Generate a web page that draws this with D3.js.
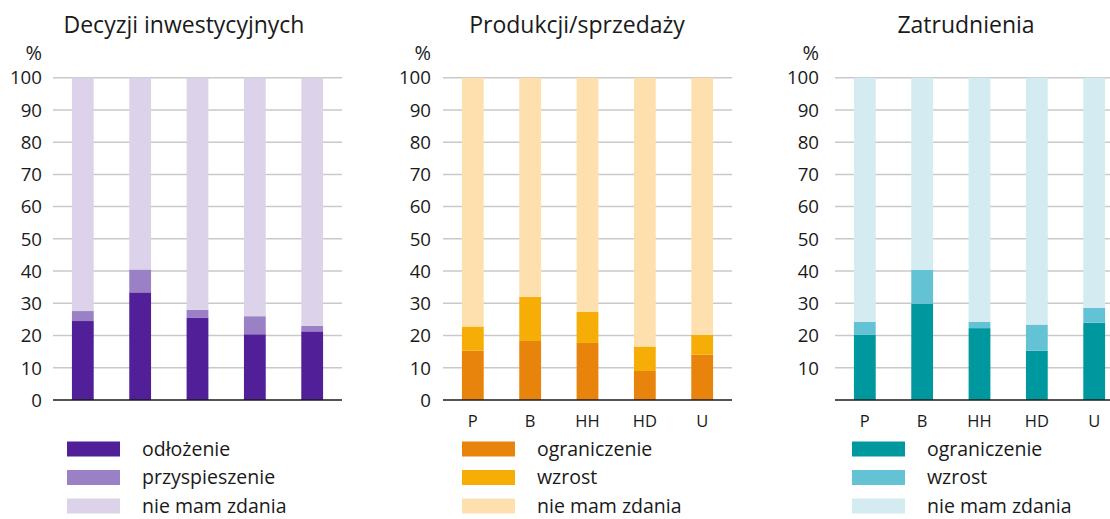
<!DOCTYPE html>
<html><head><meta charset="utf-8">
<script src="https://cdn.jsdelivr.net/npm/d3@7"></script>
<style>body{margin:0;background:#fff}svg{display:block;font-family:"Open Sans",sans-serif}</style>
</head><body><svg id="c" width="1110" height="519"></svg>
<script>
const categories = ["P","B","HH","HD","U"];
const yTicks = [0,10,20,30,40,50,60,70,80,90,100];

// Panel 1: Decyzji inwestycyjnych
const inwTitle = "Decyzji inwestycyjnych";
const inwSeries = ["odłożenie","przyspieszenie","nie mam zdania"];
const inwOdlozenie = [24.5, 33.4, 25.6, 20.4, 21.3];
const inwPrzysp = [3.1, 7.1, 2.4, 5.6, 1.7];
const inwColors = ["#511f97","#9a80c4","#dcd3ea"];

// Panel 2: Produkcji/sprzedaży
const prodTitle = "Produkcji/sprzedaży";
const prodSeries = ["ograniczenie","wzrost","nie mam zdania"];
const prodOgran = [15.3, 18.3, 17.7, 9.0, 14.1];
const prodWzrost = [7.5, 13.7, 9.6, 7.6, 6.1];
const prodColors = ["#e8830c","#f6ae06","#fde0ad"];

// Panel 3: Zatrudnienia
const zatTitle = "Zatrudnienia";
const zatSeries = ["ograniczenie","wzrost","nie mam zdania"];
const zatOgran = [20.3, 29.9, 22.3, 15.3, 24.0];
const zatWzrost = [3.9, 10.5, 1.9, 8.1, 4.6];
const zatColors = ["#00989f","#63c2d4","#d3ebf1"];

const svg = d3.select("#c");
const y = d3.scaleLinear().domain([0,100]).range([400,77.7]);

const panels = [
  {title:inwTitle, series:inwSeries, a:inwOdlozenie, b:inwPrzysp, colors:inwColors,
   left:53, right:342, labelX:42, titleX:184, showZero:true, showX:false, swX:67, txtX:142},
  {title:prodTitle, series:prodSeries, a:prodOgran, b:prodWzrost, colors:prodColors,
   left:443, right:732, labelX:431, titleX:577, showZero:true, showX:true, swX:462, txtX:537},
  {title:zatTitle, series:zatSeries, a:zatOgran, b:zatWzrost, colors:zatColors,
   left:835, right:1124, labelX:819, titleX:966, showZero:false, showX:true, swX:852, txtX:927}
];

panels.forEach(p => {
  const g = svg.append("g");
  const x = d3.scaleBand().domain(categories).range([p.left,p.right]).paddingInner(0.62).paddingOuter(0.33);
  g.append("text").attr("x",p.titleX).attr("y",33).attr("text-anchor","middle")
    .attr("font-size",23).attr("fill","#1a1a1a").text(p.title);
  g.append("text").attr("x",p.labelX).attr("y",60).attr("text-anchor","end")
    .attr("font-size",20).attr("fill","#1a1a1a").text("%");
  // gridlines
  g.selectAll("line.grid").data(yTicks.filter(t=>t>0)).join("line")
    .attr("x1",p.left).attr("x2",p.right).attr("y1",d=>y(d)).attr("y2",d=>y(d))
    .attr("stroke","#c9c9c9").attr("stroke-width",1.5);
  // tick labels
  g.selectAll("text.yt").data(yTicks.filter(t=>p.showZero||t>0)).join("text")
    .attr("x",p.labelX).attr("y",d=>y(d)).attr("dy","0.36em").attr("text-anchor","end")
    .attr("font-size",18.7).attr("fill","#1a1a1a").text(d=>d);
  // stacked bars
  const rows = categories.map((c,i)=>({cat:c, s0:p.a[i], s1:p.b[i], s2:100-p.a[i]-p.b[i]}));
  const stack = d3.stack().keys(["s0","s1","s2"])(rows);
  stack.forEach((layer,k)=>{
    g.selectAll(null).data(layer).join("rect")
      .attr("x",d=>x(d.data.cat)).attr("width",x.bandwidth())
      .attr("y",d=>y(d[1])).attr("height",d=>y(d[0])-y(d[1]))
      .attr("fill",p.colors[k]);
  });
  // baseline
  g.append("line").attr("x1",p.left).attr("x2",p.right).attr("y1",y(0)).attr("y2",y(0))
    .attr("stroke","#1a1a1a").attr("stroke-width",1.5);
  if (p.showX) {
    g.selectAll(null).data(categories).join("text")
      .attr("x",d=>x(d)+x.bandwidth()/2).attr("y",427).attr("text-anchor","middle")
      .attr("font-size",16.5).attr("fill","#1a1a1a").text(d=>d);
  }
  // legend
  p.series.forEach((s,k)=>{
    const cy = 449 + k*28.5;
    g.append("rect").attr("x",p.swX).attr("y",cy-7.5).attr("width",53).attr("height",15).attr("fill",p.colors[k]);
    g.append("text").attr("x",p.txtX).attr("y",cy).attr("dy","0.35em")
      .attr("font-size",19.5).attr("fill","#1a1a1a").text(s);
  });
});
</script></body></html>
